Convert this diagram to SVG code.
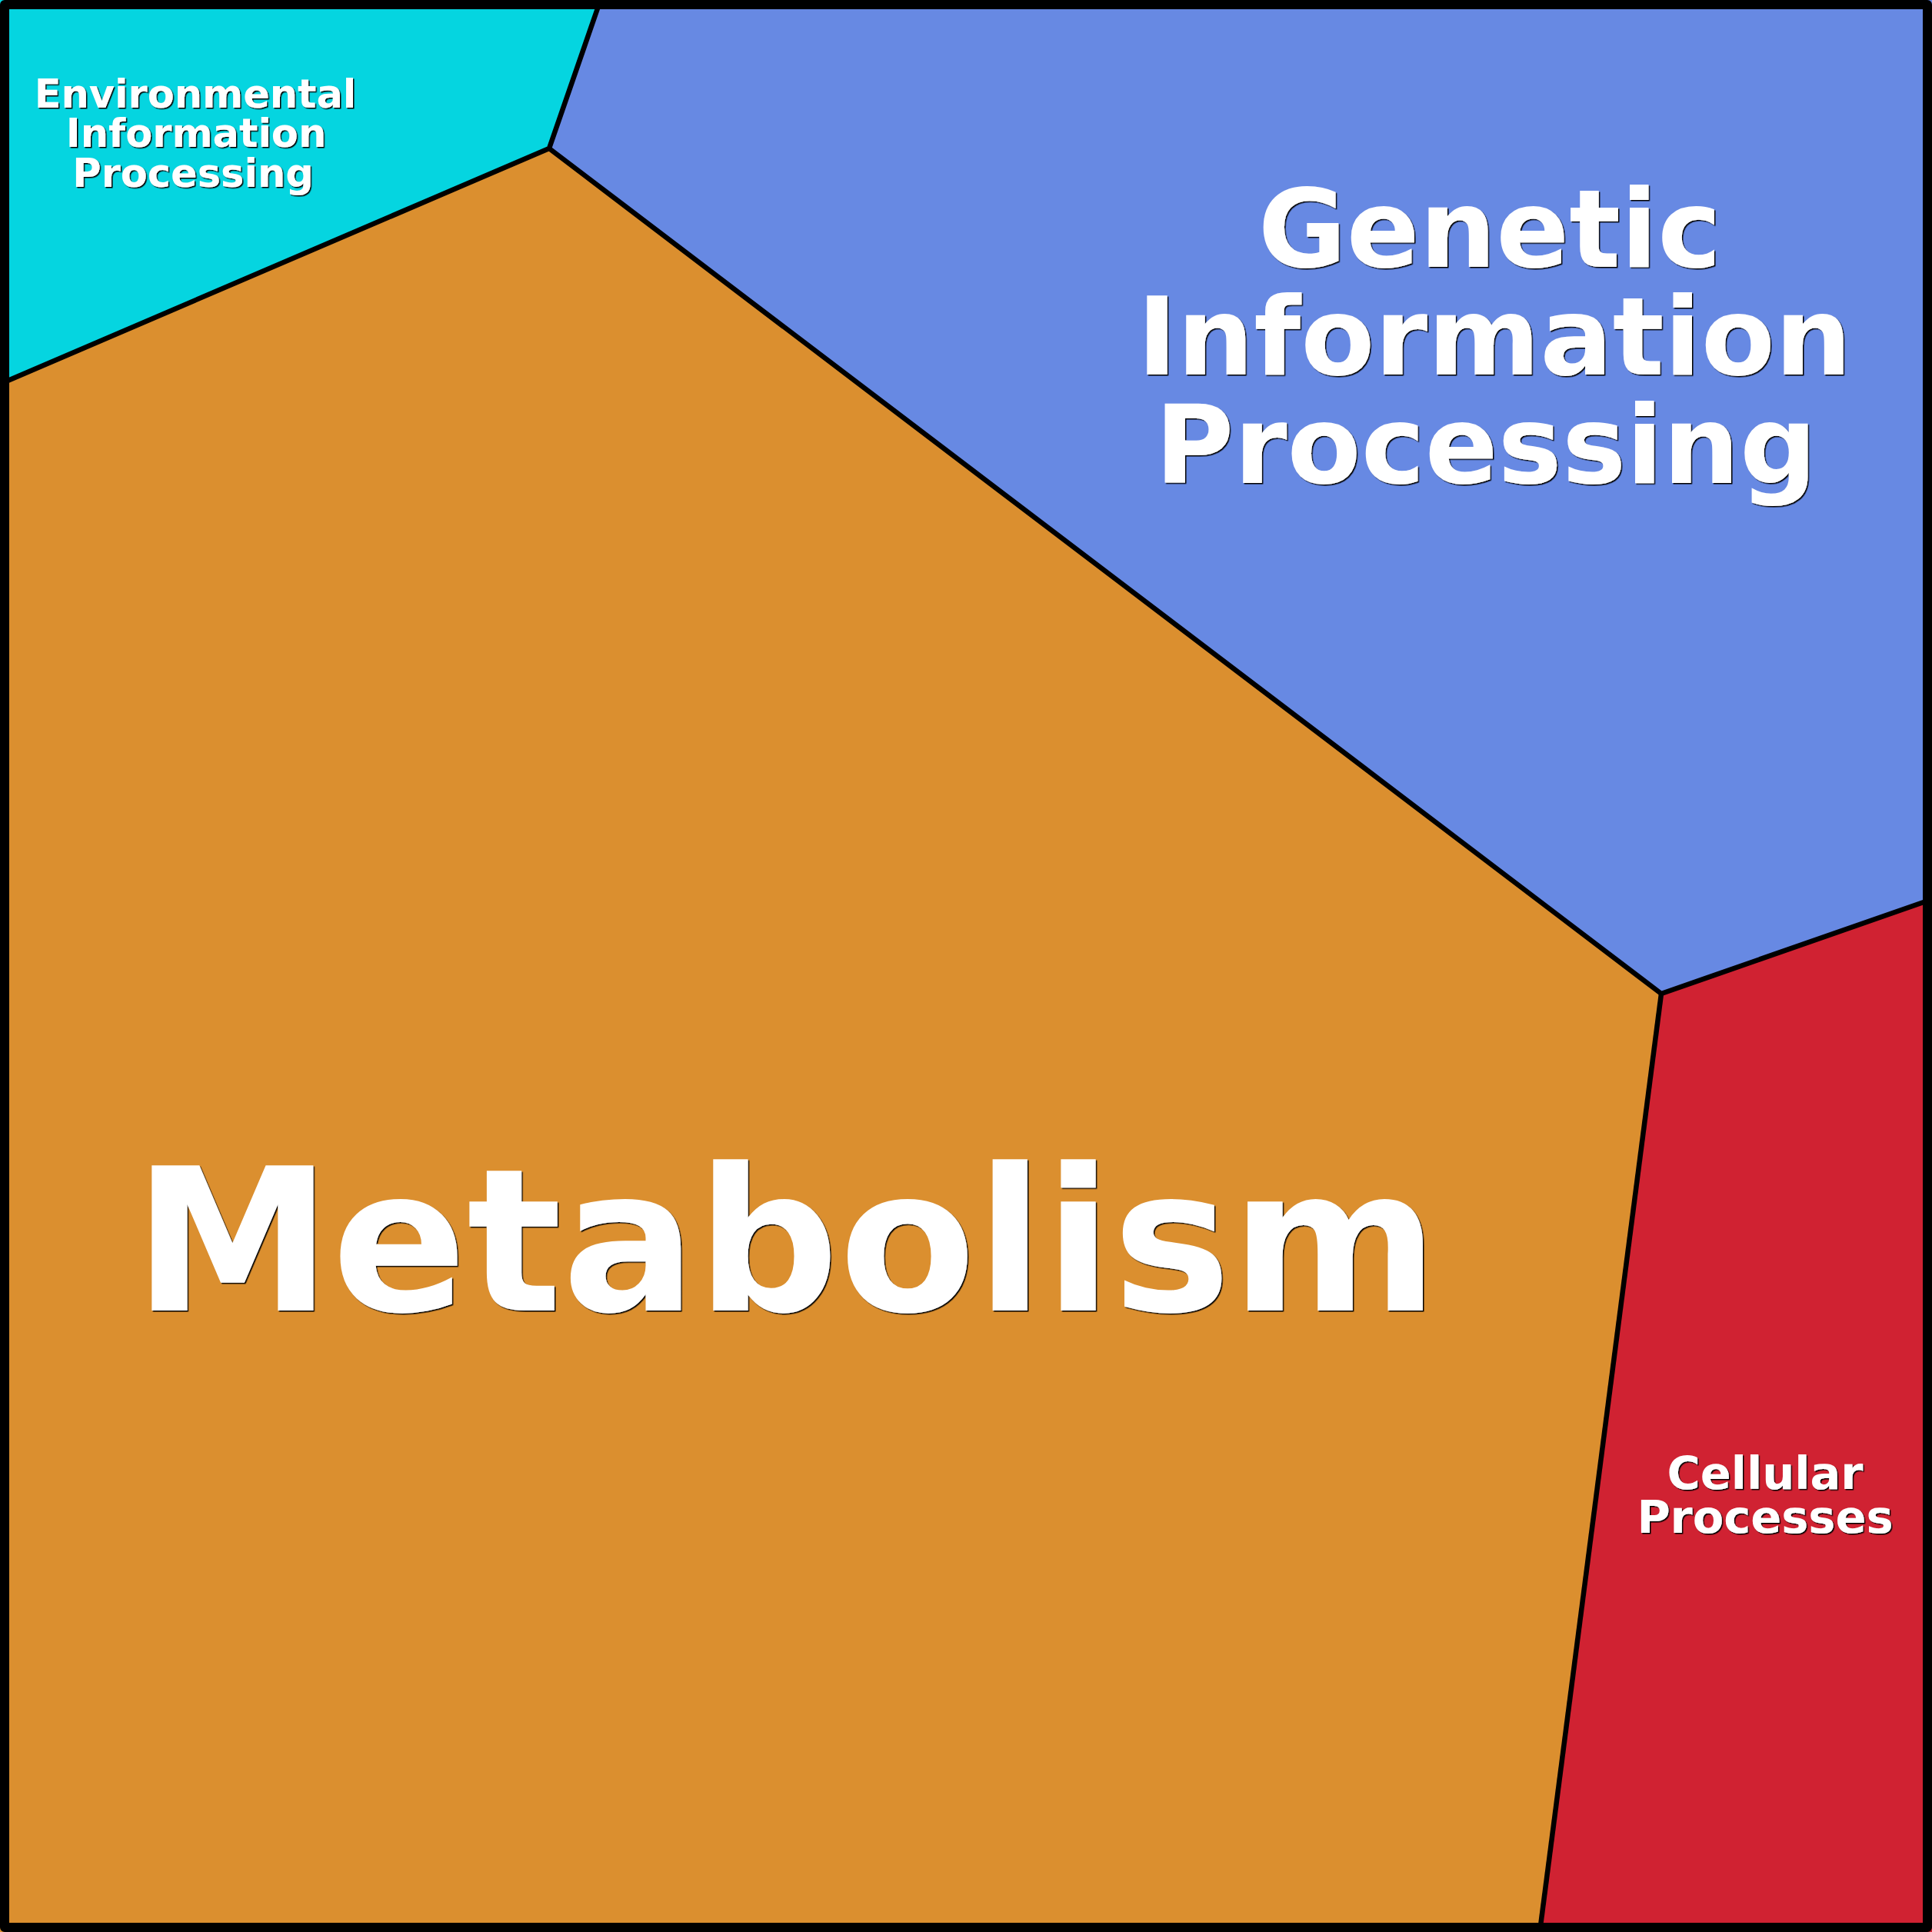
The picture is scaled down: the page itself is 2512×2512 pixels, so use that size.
<svg xmlns="http://www.w3.org/2000/svg" width="2512" height="2512" viewBox="0 0 2512 2512">
  <style>
    .lbl { font-family: "DejaVu Sans", "Liberation Sans", sans-serif; font-weight: bold; fill: #ffffff; text-anchor: middle; filter: url(#shadow); }
    .edge { stroke: #000000; stroke-width: 6.5; fill: none; stroke-linejoin: round; stroke-linecap: butt; }
  </style>
  <defs>
    <filter id="shadow" x="-5%" y="-5%" width="110%" height="110%">
      <feDropShadow dx="1.5" dy="1.5" stdDeviation="0.4" flood-color="#000000" flood-opacity="1"/>
    </filter>
  </defs>

  <g id="metabolism">
    <polygon points="0,499 714,193 2160,1292 2002,2512 0,2512" fill="#DB8F2F"/>
    <text class="lbl" x="1022" y="1704" font-size="259">Metabolism</text>
  </g>

  <g id="genetic-information-processing">
    <polygon points="782,0 2512,0 2512,1169 2160,1292 714,193" fill="#6789E3"/>
    <text class="lbl" font-size="140"><tspan x="1937" y="347">Genetic</tspan><tspan x="1943" y="487">Information</tspan><tspan x="1932" y="628">Processing</tspan></text>
  </g>

  <g id="environmental-information-processing">
    <polygon points="0,0 782,0 714,193 0,499" fill="#05D5E0"/>
    <text class="lbl" font-size="51"><tspan x="254" y="140">Environmental</tspan><tspan x="255" y="191">Information</tspan><tspan x="251" y="243">Processing</tspan></text>
  </g>

  <g id="cellular-processes">
    <polygon points="2160,1292 2512,1169 2512,2512 2002,2512" fill="#D02232"/>
    <text class="lbl" font-size="59"><tspan x="2295" y="1936">Cellular</tspan><tspan x="2295" y="1993">Processes</tspan></text>
  </g>

  <g id="connectors">
    <polyline class="edge" points="10,495 714,193 778,8"/>
    <polyline class="edge" points="714,193 2160,1292 2504,1172"/>
    <line class="edge" x1="2160" y1="1292" x2="2003" y2="2504"/>
  </g>

  <rect id="frame" x="6" y="6" width="2500" height="2500" fill="none" stroke="#000000" stroke-width="12" stroke-linejoin="round"/>
</svg>
